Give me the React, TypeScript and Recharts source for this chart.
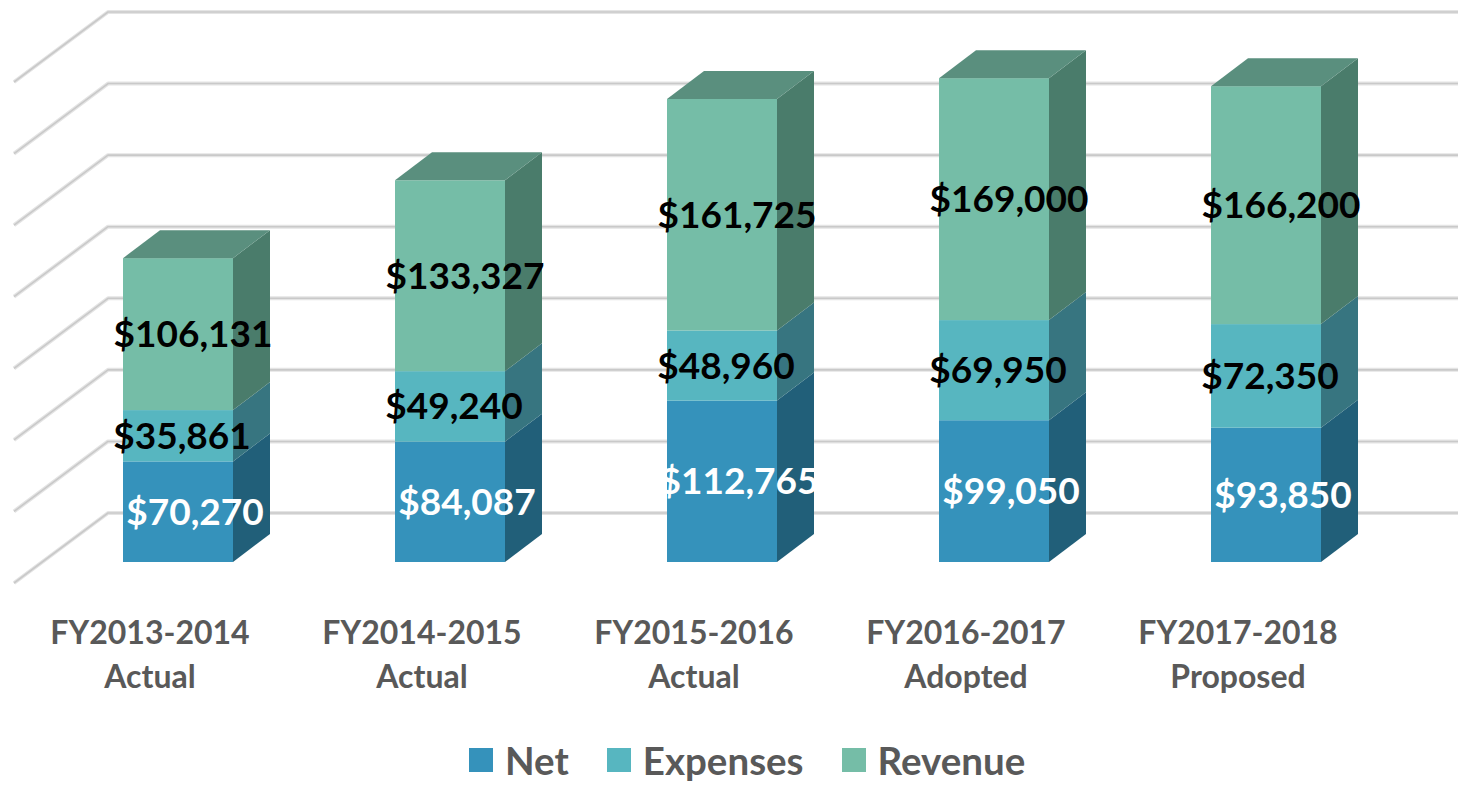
import React from 'react';
import { BarChart, Bar, XAxis, YAxis, CartesianGrid, LabelList, Legend } from 'recharts';

const fiscalYears = ['FY2013-2014', 'FY2014-2015', 'FY2015-2016', 'FY2016-2017', 'FY2017-2018'];
const stages = ['Actual', 'Actual', 'Actual', 'Adopted', 'Proposed'];
const netValues = [70270, 84087, 112765, 99050, 93850];
const expenseValues = [35861, 49240, 48960, 69950, 72350];
const revenueValues = [106131, 133327, 161725, 169000, 166200];
const yTicks = [0, 50000, 100000, 150000, 200000, 250000, 300000, 350000];

const seriesNames = ['Net', 'Expenses', 'Revenue'];

const data = fiscalYears.map((fy, i) => ({
  name: fy,
  stage: stages[i],
  net: netValues[i],
  expenses: expenseValues[i],
  revenue: revenueValues[i],
}));

const W = 1458;
const H = 785;
const DX = 37; // bar depth
const DY = 28;
const WALL_X = 66; // bar front plane -> back wall
const WALL_Y = 49;
const FRONT_X = 28; // bar front plane -> floor front edge
const FRONT_Y = 21;
const FONT = 'Lato, "Open Sans", sans-serif';

const COLORS = {
  net: { front: '#3592bb', side: '#215f79', top: '#2a7697' },
  expenses: { front: '#57b6c0', side: '#377580', top: '#44929b' },
  revenue: { front: '#75bda7', side: '#4a7c6b', top: '#5a8f7e' },
};

const makeShape = (c: { front: string; side: string; top: string }, isTop: boolean) => (props: any) => {
  const { x, y, width, height } = props;
  if (!height || height <= 0) return <g />;
  const r = x + width;
  return (
    <g>
      <rect x={x} y={y} width={width} height={height} fill={c.front} />
      <polygon
        points={`${r},${y + height} ${r + DX},${y + height - DY} ${r + DX},${y - DY} ${r},${y}`}
        fill={c.side}
      />
      {isTop && (
        <polygon points={`${x},${y} ${r},${y} ${r + DX},${y - DY} ${x + DX},${y - DY}`} fill={c.top} />
      )}
    </g>
  );
};

const makeLabel = (color: string, offsetX: number) => (props: any) => {
  const { x, y, width, height, value } = props;
  return (
    <text
      x={Number(x) + Number(width) / 2 + offsetX}
      y={Number(y) + Number(height) / 2 + 13}
      textAnchor="middle"
      fill={color}
      fontSize={37}
      fontWeight={700}
      fontFamily={FONT}
    >
      {'$' + Number(value).toLocaleString('en-US')}
    </text>
  );
};

const renderGridLine = (props: any) => {
  const { x1, y1, key, index } = props;
  const bx = x1 + WALL_X;
  const by = y1 - WALL_Y;
  const pts = `${x1 - FRONT_X},${y1 + FRONT_Y} ${bx},${by} ${W},${by}`;
  return (
    <g key={key ?? `g-${index}`}>
      <polyline points={pts} fill="none" stroke="#e4e4e4" strokeWidth={4} strokeLinejoin="round" />
      <polyline points={pts} fill="none" stroke="#c9c9c9" strokeWidth={1.6} strokeLinejoin="round" />
    </g>
  );
};

const CategoryTick = (props: any) => {
  const { x, y, payload, index } = props;
  const lx = Number(x) - FRONT_X;
  const i = payload && payload.index != null ? payload.index : index;
  return (
    <g>
      <text x={lx} y={Number(y) + 82} textAnchor="middle" fill="#595959" fontSize={32} fontWeight={700} fontFamily={FONT}>
        {payload.value}
      </text>
      <text x={lx} y={Number(y) + 126} textAnchor="middle" fill="#595959" fontSize={32} fontWeight={700} fontFamily={FONT}>
        {stages[i]}
      </text>
    </g>
  );
};

const legendColors = [COLORS.net.front, COLORS.expenses.front, COLORS.revenue.front];

const LegendContent = () => (
  <div style={{ display: 'flex', alignItems: 'center', height: 40 }}>
    {seriesNames.map((n, i) => (
      <div key={n} style={{ display: 'flex', alignItems: 'center', marginRight: 38 }}>
        <div style={{ width: 24, height: 24, background: legendColors[i], marginRight: 12 }} />
        <span style={{ fontFamily: FONT, fontWeight: 700, fontSize: 38.5, lineHeight: '40px', color: '#595959' }}>{n}</span>
      </div>
    ))}
  </div>
);

export default function App() {
  return (
    <div style={{ position: 'absolute', left: 0, top: 0, width: W, height: H, background: '#ffffff' }}>
      <BarChart
        width={W}
        height={H}
        data={data}
        margin={{ top: 61, right: 56, left: 42, bottom: 63 }}
        barSize={110}
      >
        <CartesianGrid vertical={false} horizontal={renderGridLine} />
        <XAxis
          dataKey="name"
          height={120}
          axisLine={false}
          tickLine={false}
          tickSize={0}
          tickMargin={0}
          interval={0}
          tick={<CategoryTick />}
        />
        <YAxis hide domain={[0, 350000]} ticks={yTicks} />
        <Legend
          verticalAlign="bottom"
          content={<LegendContent />}
          wrapperStyle={{ top: 740, left: 469, width: 700, height: 40 }}
        />
        <Bar dataKey="net" name="Net" stackId="a" fill={COLORS.net.front} isAnimationActive={false} shape={makeShape(COLORS.net, false)}>
          <LabelList dataKey="net" content={makeLabel('#ffffff', 17)} />
        </Bar>
        <Bar dataKey="expenses" name="Expenses" stackId="a" fill={COLORS.expenses.front} isAnimationActive={false} shape={makeShape(COLORS.expenses, false)}>
          <LabelList dataKey="expenses" content={makeLabel('#000000', 4)} />
        </Bar>
        <Bar dataKey="revenue" name="Revenue" stackId="a" fill={COLORS.revenue.front} isAnimationActive={false} shape={makeShape(COLORS.revenue, true)}>
          <LabelList dataKey="revenue" content={makeLabel('#000000', 15)} />
        </Bar>
      </BarChart>
    </div>
  );
}
